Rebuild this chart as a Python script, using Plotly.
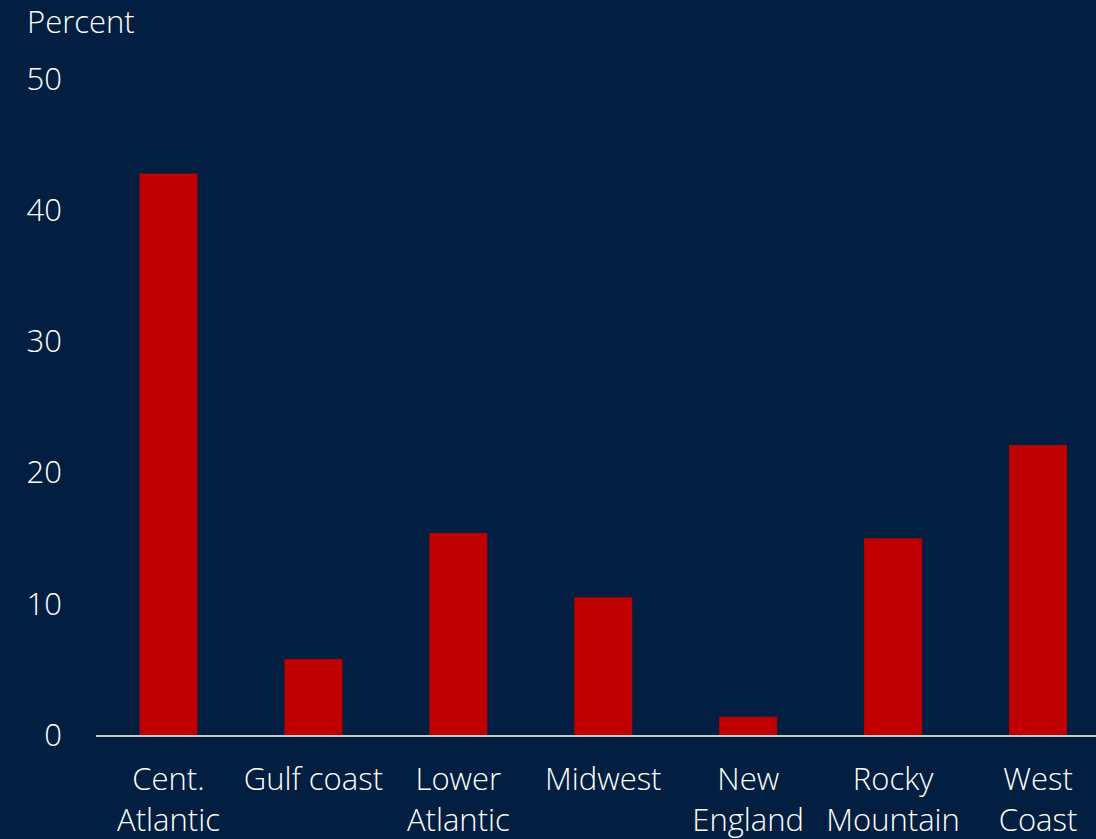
import plotly.graph_objects as go

categories = ["Cent.<br>Atlantic", "Gulf coast", "Lower<br>Atlantic", "Midwest",
              "New<br>England", "Rocky<br>Mountain", "West<br>Coast"]
values = [42.8, 5.8, 15.4, 10.5, 1.4, 15.0, 22.1]
y_ticks = [0, 10, 20, 30, 40, 50]

BG = "#021E40"
FONT = "Open Sans"
FS = 31

fig = go.Figure(go.Bar(x=list(range(len(categories))), y=values,
                       marker=dict(color="#C00000", line=dict(width=0)),
                       width=0.4))

fig.update_layout(
    width=1096, height=839,
    paper_bgcolor=BG, plot_bgcolor=BG,
    margin=dict(l=96, r=0, t=79, b=104),
    showlegend=False,
    font=dict(family=FONT, color="white", size=FS, weight=300),
    annotations=[dict(text="Percent", xref="paper", yref="paper",
                      x=(25 - 96) / 1000, y=1 + (79 - 21) / 656,
                      xanchor="left", yanchor="middle", showarrow=False,
                      font=dict(size=FS, color="white", family=FONT, weight=300))],
)
fig.update_xaxes(
    tickmode="array", tickvals=list(range(len(categories))), ticktext=categories,
    range=[-0.5, 6.4], showgrid=False, zeroline=False,
    showline=True, linecolor="#C8C8C8", linewidth=2,
    ticks="", tickfont=dict(size=FS, color="white", family=FONT, weight=300),
    ticklabelstandoff=16,
)
fig.update_yaxes(
    range=[0, 50], tickvals=y_ticks, showgrid=False, zeroline=False, showline=False,
    ticks="", tickfont=dict(size=FS, color="white", family=FONT, weight=300),
    ticklabelstandoff=33,
)

fig.write_html("out.html")
